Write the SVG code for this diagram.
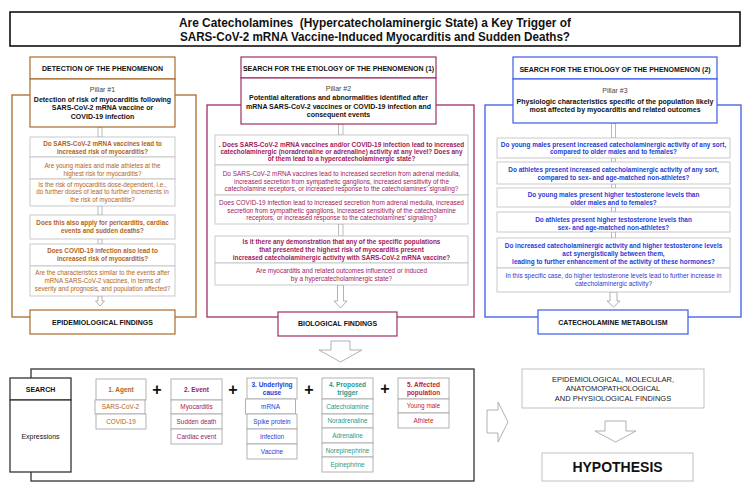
<svg xmlns="http://www.w3.org/2000/svg" width="750" height="500" viewBox="0 0 750 500">
<style>
text{font-family:"Liberation Sans",Arial,Helvetica,sans-serif;text-anchor:middle}
.h{font-weight:bold;font-size:7px;fill:#111}
.p{font-size:7px;fill:#444}
.pb{font-weight:bold;font-size:7px;fill:#111}
.q{font-size:6.3px}
.qm{font-size:6.45px}
.b{font-weight:bold}
.br{fill:#b0641c}.mg{fill:#a0205c}.bl{fill:#1f3bd6}.tl{fill:#1f9a8a}.rd{fill:#c8202c}
.qb{fill:#fff;stroke:#c4c4c4;stroke-width:0.9}
.conn{fill:#fff;stroke:#aaa;stroke-width:0.8}
.arr{fill:#fff;stroke:#a8a8a8;stroke-width:0.9}
.fb{fill:none;stroke:#a86b2d;stroke-width:1.3}
.fm{fill:none;stroke:#9e2f66;stroke-width:1.3}
.fl{fill:none;stroke:#3b5bea;stroke-width:1.3}
.hb{fill:#fff;stroke:#a86b2d;stroke-width:1.2}
.hm{fill:#fff;stroke:#9e2f66;stroke-width:1.2}
.hl{fill:#fff;stroke:#3b5bea;stroke-width:1.2}
.cell{fill:#fff;stroke:#a9a9a9;stroke-width:0.9}
.c{font-size:6.4px}
.ch{font-size:6.5px;font-weight:bold}
.dk{fill:#fff;stroke:#333;stroke-width:1.3}
</style>
<rect width="750" height="500" fill="#fff"/>

<g id="title">
<rect x="10" y="12" width="730" height="34" fill="#fff" stroke="#111" stroke-width="1.6"/>
<text x="375" y="27" font-size="12.5" font-weight="bold" fill="#111" textLength="392" lengthAdjust="spacingAndGlyphs">Are Catecholamines&#160; (Hypercatecholaminergic State) a Key Trigger of</text>
<text x="375" y="41" font-size="12.5" font-weight="bold" fill="#111" textLength="390" lengthAdjust="spacingAndGlyphs">SARS-CoV-2 mRNA Vaccine-Induced Myocarditis and Sudden Deaths?</text>
</g>

<g id="frames">
<rect class="fb" x="12" y="95" width="184" height="222"/>
<rect class="fm" x="207" y="105" width="267" height="212"/>
<rect class="fl" x="485" y="105" width="256" height="212"/>
</g>

<g id="connectors">
<rect class="conn" x="98" y="127" width="4" height="10"/>
<rect class="conn" x="98" y="206" width="4" height="9"/>
<rect class="conn" x="98" y="239" width="4" height="5"/>
<path class="arr" d="M98,296 V301 H95.5 L100,306 L104.5,301 H102 V296 Z"/>
<rect class="conn" x="338.5" y="124" width="4.5" height="11"/>
<rect class="conn" x="338.5" y="224" width="4.5" height="12"/>
<path class="arr" d="M337.5,285 V301 H334 L340.5,308 L347,301 H343.5 V285 Z"/>
<rect class="conn" x="611.5" y="123" width="4" height="15"/>
<rect class="conn" x="611.5" y="158" width="4" height="4"/>
<rect class="conn" x="611.5" y="184" width="4" height="4"/>
<rect class="conn" x="611.5" y="207" width="4" height="5"/>
<rect class="conn" x="611.5" y="232" width="4" height="6"/>
<path class="arr" d="M610,292 V301 H607 L613.5,307 L620,301 H617 V292 Z"/>
<path class="arr" d="M331,341 H350 V350 H362 L340.5,362 L319,350 H331 Z"/>
<path class="arr" d="M487,410 H498 V402 L508,422 L498,442 V433 H487 Z"/>
<path class="arr" d="M605,421 H626 V431 H636 L615.5,442 L595,431 H605 Z"/>
</g>

<g id="left-header">
<rect class="hb" x="30" y="57" width="145" height="22"/>
<text class="h" x="102.5" y="70.5">DETECTION OF THE PHENOMENON</text>
</g>
<g id="pillar1">
<rect class="hb" x="30" y="79" width="145" height="48"/>
<text class="p" x="102.5" y="91.5">Pillar #1</text>
<text class="pb" x="102.5" y="101.5">Detection of risk of myocarditis following</text>
<text class="pb" x="102.5" y="110">SARS-CoV-2 mRNA vaccine or</text>
<text class="pb" x="102.5" y="118.5">COVID-19 infection</text>
</g>
<g id="l-q1">
<rect class="qb" x="30" y="137" width="145" height="20"/>
<text class="q b br" x="102.5" y="146.3">Do SARS-CoV-2 mRNA vaccines lead to</text>
<text class="q b br" x="102.5" y="154">increased risk of myocarditis?</text>
</g>
<g id="l-q2">
<rect class="qb" x="30" y="157" width="145" height="22"/>
<text class="q br" x="102.5" y="168.2">Are young males and male athletes at the</text>
<text class="q br" x="102.5" y="176.2">highest risk for myocarditis?</text>
</g>
<g id="l-q3">
<rect class="qb" x="30" y="179" width="145" height="27"/>
<text class="q br" x="102.5" y="186.7">Is the risk of myocarditis dose-dependent, i.e.,</text>
<text class="q br" x="102.5" y="194.2">do further doses of lead to further increments in</text>
<text class="q br" x="102.5" y="201.7">the risk of myocarditis?</text>
</g>
<g id="l-q4">
<rect class="qb" x="30" y="215" width="145" height="24"/>
<text class="q b br" x="102.5" y="225.2">Does this also apply for pericarditis, cardiac</text>
<text class="q b br" x="102.5" y="233.2">events and sudden deaths?</text>
</g>
<g id="l-q5">
<rect class="qb" x="30" y="244" width="145" height="22"/>
<text class="q b br" x="102.5" y="252.7">Does COVID-19 infection also lead to</text>
<text class="q b br" x="102.5" y="260.7">increased risk of myocarditis?</text>
</g>
<g id="l-q6">
<rect class="qb" x="30" y="266" width="145" height="30"/>
<text class="q br" x="102.5" y="275.2">Are the characteristics similar to the events after</text>
<text class="q br" x="102.5" y="283.2">mRNA SARS-CoV-2 vaccines, in terms of</text>
<text class="q br" x="102.5" y="291.2">severity and prognosis, and population affected?</text>
</g>
<g id="epi-findings">
<rect class="hb" x="30" y="310" width="145" height="24"/>
<text class="h" x="102.5" y="324.5">EPIDEMIOLOGICAL FINDINGS</text>
</g>

<g id="mid-header">
<rect class="hm" x="241" y="57" width="195" height="21"/>
<text class="h" x="338.5" y="71">SEARCH FOR THE ETIOLOGY OF THE PHENOMENON (1)</text>
</g>
<g id="pillar2">
<rect class="hm" x="241" y="78" width="195" height="46"/>
<text class="p" x="338.5" y="90.5">Pillar #2</text>
<text class="pb" x="338.5" y="100">Potential alterations and abnormalities identified after</text>
<text class="pb" x="338.5" y="109">mRNA SARS-CoV-2 vaccines or COVID-19 infection and</text>
<text class="pb" x="338.5" y="117">consequent events</text>
</g>
<g id="m-q1">
<rect class="qb" x="215" y="135" width="253" height="30"/>
<text class="qm b mg" x="341.5" y="146.5">. Does SARS-CoV-2 mRNA vaccines and/or COVID-19 infection lead to increased</text>
<text class="qm b mg" x="341.5" y="154">catecholaminergic (noradrenaline or adrenaline) activity at any level? Does any</text>
<text class="qm b mg" x="341.5" y="161.3">of them lead to a hypercatecholaminergic state?</text>
</g>
<g id="m-q2">
<rect class="qb" x="215" y="165" width="253" height="30"/>
<text class="qm mg" x="341.5" y="176.2">Do SARS-CoV-2 mRNA vaccines lead to increased secretion from adrenal medulla,</text>
<text class="qm mg" x="341.5" y="183.7">increased secretion from sympathetic ganglions, increased sensitivity of the</text>
<text class="qm mg" x="341.5" y="191.2">catecholamine receptors, or increased response to the catecholamines’ signaling?</text>
</g>
<g id="m-q3">
<rect class="qb" x="215" y="195" width="253" height="29"/>
<text class="qm mg" x="341.5" y="205.2">Does COVID-19 infection lead to increased secretion from adrenal medulla, increased</text>
<text class="qm mg" x="341.5" y="212.5">secretion from sympathetic ganglions, increased sensitivity of the catecholamine</text>
<text class="qm mg" x="341.5" y="219.7">receptors, or increased response to the catecholamines’ signaling?</text>
</g>
<g id="m-q4">
<rect class="qb" x="215" y="236" width="253" height="27"/>
<text class="qm b mg" x="341.5" y="243.7">Is it there any demonstration that any of the specific populations</text>
<text class="qm b mg" x="341.5" y="251.7">that presented the highest risk of myocarditis present</text>
<text class="qm b mg" x="341.5" y="259.5">increased catecholaminergic activity with SARS-CoV-2 mRNA vaccine?</text>
</g>
<g id="m-q5">
<rect class="qb" x="215" y="263" width="253" height="22"/>
<text class="qm mg" x="341.5" y="273.2">Are myocarditis and related outcomes influenced or induced</text>
<text class="qm mg" x="341.5" y="280.5">by a hypercatecholaminergic state?</text>
</g>
<g id="bio-findings">
<rect class="hm" x="278" y="312" width="119" height="24"/>
<text class="h" x="337.5" y="326">BIOLOGICAL FINDINGS</text>
</g>

<g id="right-header">
<rect class="hl" x="513" y="57" width="204" height="22"/>
<text class="h" x="615" y="71.5">SEARCH FOR THE ETIOLOGY OF THE PHENOMENON (2)</text>
</g>
<g id="pillar3">
<rect class="hl" x="513" y="79" width="204" height="44"/>
<text class="p" x="615" y="92.5">Pillar #3</text>
<text class="pb" x="615" y="104.3">Physiologic characteristics specific of the population likely</text>
<text class="pb" x="615" y="112">most affected by myocarditis and related outcomes</text>
</g>
<g id="r-q1">
<rect class="qb" x="497" y="138" width="233" height="20"/>
<text class="qm b bl" x="613.5" y="146.5">Do young males present increased catecholaminergic activity of any sort,</text>
<text class="qm b bl" x="613.5" y="154">compared to older males and to females?</text>
</g>
<g id="r-q2">
<rect class="qb" x="497" y="162" width="233" height="22"/>
<text class="qm b bl" x="613.5" y="172.2">Do athletes present increased catecholaminergic activity of any sort,</text>
<text class="qm b bl" x="613.5" y="179.5">compared to sex- and age-matched non-athletes?</text>
</g>
<g id="r-q3">
<rect class="qb" x="497" y="188" width="233" height="19"/>
<text class="qm b bl" x="613.5" y="197.2">Do young males present higher testosterone levels than</text>
<text class="qm b bl" x="613.5" y="204.9">older males and to females?</text>
</g>
<g id="r-q4">
<rect class="qb" x="497" y="212" width="233" height="20"/>
<text class="qm b bl" x="613.5" y="222.2">Do athletes present higher testosterone levels than</text>
<text class="qm b bl" x="613.5" y="229.9">sex- and age-matched non-athletes?</text>
</g>
<g id="r-q5">
<rect class="qb" x="497" y="238" width="233" height="30"/>
<text class="qm b bl" x="613.5" y="248.2">Do increased catecholaminergic activity and higher testosterone levels</text>
<text class="qm b bl" x="613.5" y="255.9">act synergistically between them,</text>
<text class="qm b bl" x="613.5" y="263.5">leading to further enhancement of the activity of these hormones?</text>
</g>
<g id="r-q6">
<rect class="qb" x="497" y="268" width="233" height="24"/>
<text class="qm bl" x="613.5" y="278.2">In this specific case, do higher testosterone levels lead to further increase in</text>
<text class="qm bl" x="613.5" y="286.2">catecholaminergic activity?</text>
</g>
<g id="cat-metabolism">
<rect class="hl" x="538" y="310" width="150" height="24"/>
<text class="h" x="613" y="324.5">CATECHOLAMINE METABOLISM</text>
</g>

<g id="search-frame">
<rect x="31" y="369" width="443" height="112" fill="none" stroke="#333" stroke-width="1.3"/>
</g>
<g id="search">
<rect class="dk" x="10" y="378" width="61" height="22"/>
<text class="h" x="40.5" y="391.5">SEARCH</text>
</g>
<g id="expressions">
<rect class="dk" x="10" y="400" width="61" height="72"/>
<text x="40.5" y="438.5" font-size="7" fill="#111">Expressions</text>
</g>
<g id="agent">
<rect class="cell" x="96" y="379" width="50" height="21"/>
<rect class="cell" x="95" y="400" width="50" height="14"/>
<rect class="cell" x="96" y="414" width="50" height="15"/>
<text class="ch br" x="121" y="391.5">1. Agent</text>
<text class="c br" x="120.5" y="409.3">SARS-CoV-2</text>
<text class="c br" x="121" y="424">COVID-19</text>
</g>
<g id="event">
<rect class="cell" x="171" y="379" width="51" height="21"/>
<rect class="cell" x="171" y="400" width="51" height="14"/>
<rect class="cell" x="171" y="414" width="51" height="15"/>
<rect class="cell" x="171" y="429" width="51" height="15"/>
<text class="ch mg" x="196.5" y="391.5">2. Event</text>
<text class="c mg" x="196.5" y="409.3">Myocarditis</text>
<text class="c mg" x="196.5" y="424">Sudden death</text>
<text class="c mg" x="196.5" y="438.8">Cardiac event</text>
</g>
<g id="cause">
<rect class="cell" x="247" y="378" width="50" height="21"/>
<rect class="cell" x="245.5" y="399" width="50" height="15"/>
<rect class="cell" x="247" y="414" width="50" height="15"/>
<rect class="cell" x="247" y="429" width="50" height="15"/>
<rect class="cell" x="247" y="444" width="50" height="15"/>
<text class="ch bl" x="272" y="387.3">3. Underlying</text>
<text class="ch bl" x="272" y="395">cause</text>
<text class="c bl" x="270.5" y="408.5">mRNA</text>
<text class="c bl" x="272" y="423.5">Spike protein</text>
<text class="c bl" x="272" y="438.5">Infection</text>
<text class="c bl" x="272" y="453.5">Vaccine</text>
</g>
<g id="trigger">
<rect class="cell" x="322" y="378" width="51" height="21"/>
<rect class="cell" x="322" y="399" width="51" height="15"/>
<rect class="cell" x="322" y="414" width="51" height="14"/>
<rect class="cell" x="322" y="428" width="51" height="15"/>
<rect class="cell" x="322" y="443" width="51" height="14"/>
<rect class="cell" x="322" y="457" width="51" height="15"/>
<text class="ch tl" x="347.5" y="387.3">4. Proposed</text>
<text class="ch tl" x="347.5" y="395">trigger</text>
<text class="c tl" x="347.5" y="408.5">Catecholamine</text>
<text class="c tl" x="347.5" y="423.3">Noradrenaline</text>
<text class="c tl" x="347.5" y="438">Adrenaline</text>
<text class="c tl" x="347.5" y="452.5">Norepinephrine</text>
<text class="c tl" x="347.5" y="466.5">Epinephrine</text>
</g>
<g id="population">
<rect class="cell" x="398" y="378" width="51" height="21"/>
<rect class="cell" x="398" y="399" width="51" height="14"/>
<rect class="cell" x="398" y="413" width="51" height="15"/>
<text class="ch rd" x="423.5" y="387.3">5. Affected</text>
<text class="ch rd" x="423.5" y="395">population</text>
<text class="c rd" x="423.5" y="408.3">Young male</text>
<text class="c rd" x="423.5" y="423">Athlete</text>
</g>
<g id="plus-signs">
<text x="157" y="395" font-size="16" font-weight="bold" fill="#111">+</text>
<text x="233" y="395" font-size="16" font-weight="bold" fill="#111">+</text>
<text x="309" y="395" font-size="16" font-weight="bold" fill="#111">+</text>
<text x="385" y="394" font-size="16" font-weight="bold" fill="#111">+</text>
</g>
<g id="findings">
<rect x="522" y="369" width="182" height="39" fill="#fff" stroke="#bbb" stroke-width="0.9"/>
<text x="613" y="381.7" font-size="7.5" fill="#222">EPIDEMIOLOGICAL, MOLECULAR,</text>
<text x="613" y="390.9" font-size="7.5" fill="#222">ANATOMOPATHOLOGICAL</text>
<text x="613" y="400.5" font-size="7.5" fill="#222">AND PHYSIOLOGICAL FINDINGS</text>
</g>
<g id="hypothesis">
<rect x="542" y="453" width="151" height="28" fill="#fff" stroke="#bbb" stroke-width="0.9"/>
<text x="617.5" y="472" font-size="14" font-weight="bold" fill="#111">HYPOTHESIS</text>
</g>
</svg>
